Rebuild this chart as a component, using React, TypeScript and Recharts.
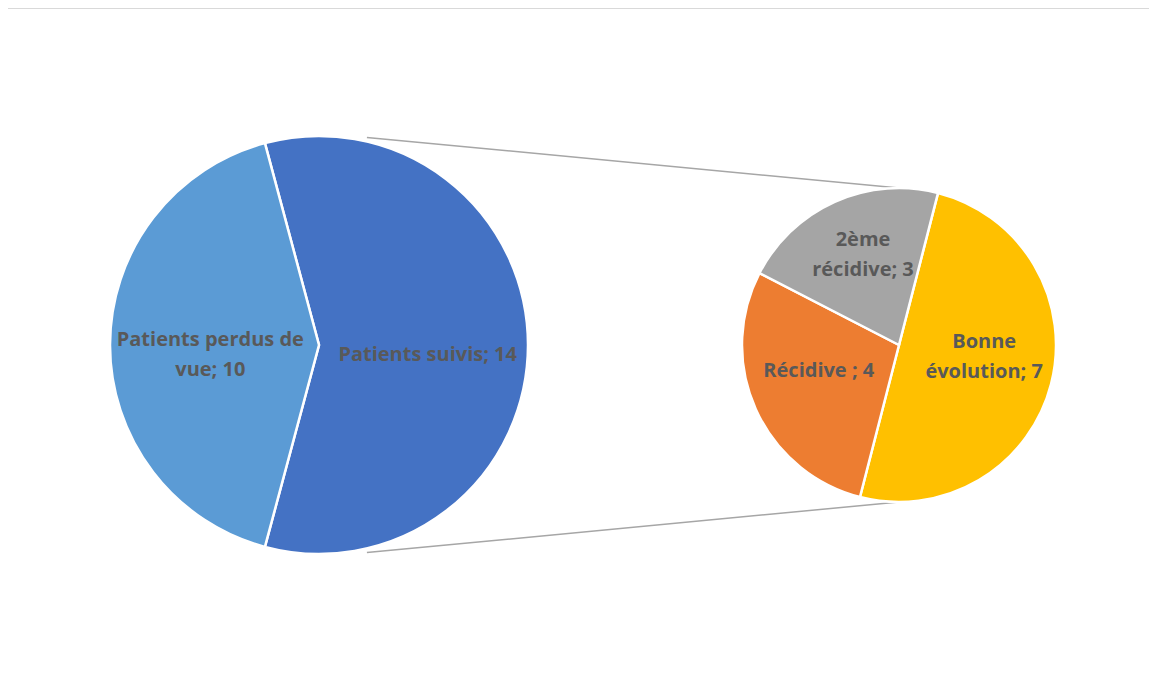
import React from 'react';
import { PieChart, Pie, Cell, Customized } from 'recharts';

// main pie
const mainNames = ['Patients suivis', 'Patients perdus de vue'];
const mainValues = [14, 10];
const mainColors = ['#4472C4', '#5B9BD5'];
const mainLabelLines = [['Patients suivis; 14'], ['Patients perdus de', 'vue; 10']];

// secondary pie (breakdown of "Patients suivis")
const subNames = ['Bonne évolution', 'Récidive', '2ème récidive'];
const subValues = [7, 4, 3];
const subColors = ['#FFC000', '#ED7D31', '#A5A5A5'];
const subLabelLines = [['Bonne', 'évolution; 7'], ['Récidive ; 4'], ['2ème', 'récidive; 3']];

const mainData = mainNames.map((name, i) => ({ name, value: mainValues[i] }));
const subData = subNames.map((name, i) => ({ name, value: subValues[i] }));

const W = 1157;
const H = 680;
const MAIN = { cx: 319, cy: 345, r: 209 };
const SUB = { cx: 899, cy: 345, r: 157 };
const RAD = Math.PI / 180;
const TEXT = '#595959';
const FONT = '"Open Sans", "Noto Sans", sans-serif';

function makeLabel(lines: string[][], factor: number, dy: number) {
  return (props: any) => {
    const { cx, cy, midAngle, outerRadius, index } = props;
    const r = outerRadius * factor;
    const x = cx + r * Math.cos(-midAngle * RAD);
    const y = cy + r * Math.sin(-midAngle * RAD) + dy;
    const ls = lines[index];
    const lh = 30;
    const top = y - ((ls.length - 1) * lh) / 2;
    return (
      <text
        key={'lbl' + index}
        x={x}
        y={top}
        textAnchor="middle"
        dominantBaseline="central"
        fill={TEXT}
        fontSize={20}
        fontWeight={700}
        fontFamily={FONT}
      >
        {ls.map((t, j) => (
          <tspan key={j} x={x} dy={j === 0 ? 0 : lh}>
            {t}
          </tspan>
        ))}
      </text>
    );
  };
}

// chart-area frame (only top & left edges are in view) + pie-of-pie connector lines
const Decor = () => {
  const a = 77 * RAD;
  const r0 = MAIN.r + 4;
  const x1 = MAIN.cx + r0 * Math.cos(a);
  const yTop = MAIN.cy - r0 * Math.sin(a);
  const yBot = MAIN.cy + r0 * Math.sin(a);
  return (
    <g>
      <line x1={6} y1={8} x2={W + 5} y2={8} stroke="#d9d9d9" strokeWidth={2} />
      <line x1={6} y1={7} x2={6} y2={H + 5} stroke="#d9d9d9" strokeWidth={2} />
      <line x1={x1} y1={yTop} x2={SUB.cx} y2={SUB.cy - SUB.r} stroke="#a6a6a6" strokeWidth={1.5} />
      <line x1={x1} y1={yBot} x2={SUB.cx} y2={SUB.cy + SUB.r} stroke="#a6a6a6" strokeWidth={1.5} />
    </g>
  );
};

export default function App() {
  return (
    <div style={{ position: 'relative', marginLeft: -8, marginTop: -8, width: W, height: H, overflow: 'hidden', background: '#fff' }}>
      <PieChart width={W} height={H} margin={{ top: 0, right: 0, bottom: 0, left: 0 }}>
        <Customized component={Decor} />
        <Pie
          data={mainData}
          dataKey="value"
          nameKey="name"
          cx={MAIN.cx}
          cy={MAIN.cy}
          outerRadius={MAIN.r}
          startAngle={105}
          endAngle={-255}
          stroke="#fff"
          strokeWidth={2.5}
          label={makeLabel(mainLabelLines, 0.52, 8)}
          labelLine={false}
          isAnimationActive={false}
        >
          {mainData.map((d, i) => (
            <Cell key={d.name} fill={mainColors[i]} />
          ))}
        </Pie>
        <Pie
          data={subData}
          dataKey="value"
          nameKey="name"
          cx={SUB.cx}
          cy={SUB.cy}
          outerRadius={SUB.r}
          startAngle={75.6}
          endAngle={-284.4}
          stroke="#fff"
          strokeWidth={2.5}
          label={makeLabel(subLabelLines, 0.56, -12)}
          labelLine={false}
          isAnimationActive={false}
        >
          {subData.map((d, i) => (
            <Cell key={d.name} fill={subColors[i]} />
          ))}
        </Pie>
      </PieChart>
    </div>
  );
}
